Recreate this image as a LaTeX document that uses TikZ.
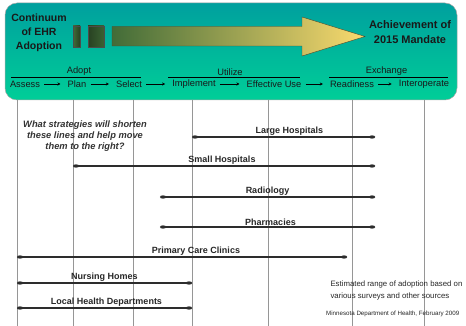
\documentclass[tikz,border=0pt]{standalone}
\usepackage{fontspec}
\setmainfont{Liberation Sans}
\usetikzlibrary{arrows.meta,positioning}
\definecolor{boxtop}{RGB}{0,160,158}
\definecolor{boxbot}{RGB}{0,206,152}
\definecolor{barleft}{RGB}{66,108,56}
\definecolor{barmid}{RGB}{196,184,92}
\definecolor{baryellow}{RGB}{250,218,110}
\definecolor{spancol}{RGB}{45,45,45}
\definecolor{gridcol}{RGB}{150,150,150}
\tikzset{
  phase/.style={font=\fontsize{9.3}{10}\selectfont, text=black!90, inner sep=1pt},
  phasearrow/.style={line width=0.6pt, -{Stealth[length=3pt,width=3pt]}, shorten <=3pt, shorten >=6pt},
  grouplabel/.style={font=\fontsize{9.3}{10}\selectfont, text=black!90, above, inner sep=1pt},
  spanline/.style={draw=spancol, line width=1.2pt, {Ellipse[length=6pt,width=3.2pt]}-{Ellipse[length=6pt,width=3.2pt]}},
  spanlabel/.style={font=\bfseries\fontsize{9}{10}\selectfont, text=black!85, above, inner sep=1pt}
}
\begin{document}
\begin{tikzpicture}[x=1pt,y=-1pt]
\useasboundingbox (0,0) rectangle (466,326);
% green banner
\shade[top color=boxtop, bottom color=boxbot, rounded corners=12pt, draw=black!35, line width=0.5pt] (5,3) rectangle (457,100);
\node[font=\bfseries\fontsize{10.5}{14}\selectfont, align=center, text=black!90] (title) at (39,33) {Continuum\\of EHR\\Adoption};
\node[font=\bfseries\fontsize{11}{15}\selectfont, align=center, text=black!90] (goal) at (410,32) {Achievement of\\2015 Mandate};
\shade[left color=barleft, right color=barleft!60!black, draw=black!70, line width=0.4pt] (73,26) rectangle (80,47);
\shade[left color=barleft!60!black, right color=barleft!90!black, draw=black!70, line width=0.4pt] (88,26) rectangle (104,47);
\shade[left color=barleft, middle color=barmid, right color=baryellow, draw=black!60!olive, line width=0.4pt]
  (112,26.5) -- (302,26.5) -- (302,17) -- (365,36.5) -- (302,56) -- (302,46) -- (112,46) -- cycle;
% phases
\node[phase] (assess) at (25,84) {Assess};
\node[phase] (plan) at (77,84) {Plan};
\node[phase] (select) at (129,84) {Select};
\node[phase] (impl) at (194,84) {Implement};
\node[phase] (effuse) at (274,84) {Effective Use};
\node[phase] (ready) at (352,84) {Readiness};
\node[phase] (interop) at (424,84) {Interoperate};
\foreach \a/\b in {assess/plan, plan/select, select/impl, impl/effuse, effuse/ready, ready/interop}
  \draw[phasearrow] (\a) -- (\b);
\path (11,77) coordinate (ad1) (141,77) coordinate (ad2)
      (168,77) coordinate (ut1) (300,77) coordinate (ut2)
      (329,77) coordinate (ex1) (448,77) coordinate (ex2);
\draw[line width=0.8pt] (ad1) -- (ad2) node[grouplabel, midway, xshift=3pt] (adopt) {Adopt};
\draw[line width=0.8pt] (ut1) -- (ut2) node[grouplabel, midway, xshift=-4pt] (utilize) {Utilize};
\draw[line width=0.8pt] (ex1) -- (ex2) node[grouplabel, midway, xshift=-2pt] (exchange) {Exchange};
% grid
\foreach \x in {17,73,133,192,268,352,424}
  \draw[gridcol, line width=0.7pt] (\x,100) -- (\x,326);
% adoption spans
\path (192,137) coordinate (lh1) (375,137) coordinate (lh2)
      (73,166) coordinate (sh1) (375,166) coordinate (sh2)
      (160,197) coordinate (ra1) (375,197) coordinate (ra2)
      (160,227) coordinate (ph1) (375,227) coordinate (ph2)
      (17,257) coordinate (pc1) (347,257) coordinate (pc2)
      (17,283) coordinate (nh1) (192,283) coordinate (nh2)
      (17,308) coordinate (hd1) (192,308) coordinate (hd2);
\draw[spanline] (lh1) -- (lh2) node[spanlabel, midway, xshift=6pt] (lhlabel) {Large Hospitals};
\draw[spanline] (sh1) -- (sh2) node[spanlabel, midway, xshift=-2pt] (shlabel) {Small Hospitals};
\draw[spanline] (ra1) -- (ra2) node[spanlabel, midway] (ralabel) {Radiology};
\draw[spanline] (ph1) -- (ph2) node[spanlabel, midway, xshift=3pt] (phlabel) {Pharmacies};
\draw[spanline] (pc1) -- (pc2) node[spanlabel, midway, xshift=14pt] (pclabel) {Primary Care Clinics};
\draw[spanline] (nh1) -- (nh2) node[spanlabel, midway] (nhlabel) {Nursing Homes};
\draw[spanline] (hd1) -- (hd2) node[spanlabel, midway, xshift=2pt] (hdlabel) {Local Health Departments};
% notes
\node[font=\bfseries\itshape\fontsize{9.3}{11}\selectfont, align=center, text=black!80] (question) at (85,136)
  {What strategies will shorten\\these lines and help move\\them to the right?};
\node[font=\fontsize{7.8}{12}\selectfont, align=left, anchor=west, text=black!85] (estimate) at (327,290)
  {Estimated range of adoption based on\\various surveys and other sources};
\node[font=\fontsize{6.2}{7}\selectfont, anchor=west, inner sep=0pt, text=black!85] (source) at (326,314)
  {Minnesota Department of Health, February 2009};
\end{tikzpicture}
\end{document}
